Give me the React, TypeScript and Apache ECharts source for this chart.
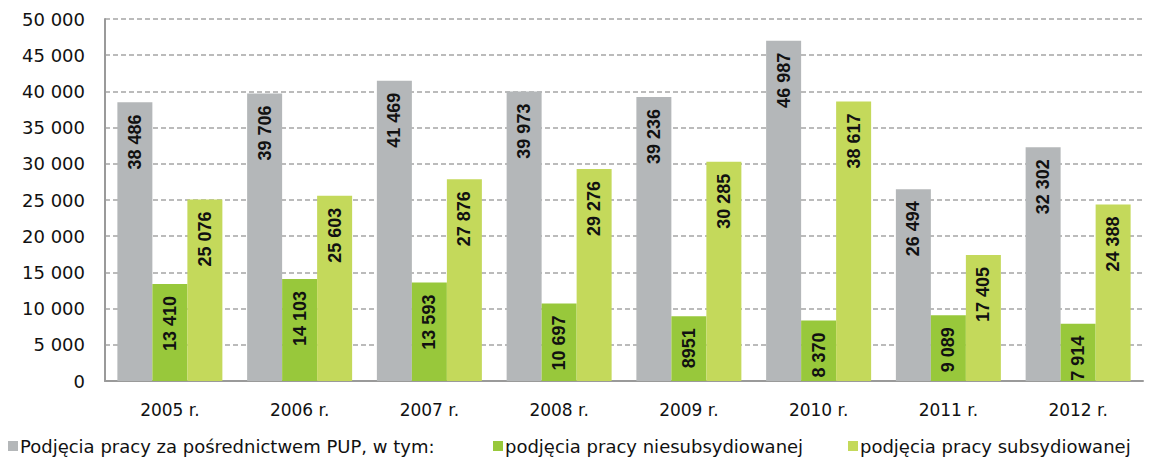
import React, { useEffect, useRef } from "react";
import * as echarts from "echarts";

const categories = ["2005 r.", "2006 r.", "2007 r.", "2008 r.", "2009 r.", "2010 r.", "2011 r.", "2012 r."];
const seriesNames = [
  "Podjęcia pracy za pośrednictwem PUP, w tym:",
  "podjęcia pracy niesubsydiowanej",
  "podjęcia pracy subsydiowanej",
];
const totalJobs = [38486, 39706, 41469, 39973, 39236, 46987, 26494, 32302];
const unsubsidized = [13410, 14103, 13593, 10697, 8951, 8370, 9089, 7914];
const subsidized = [25076, 25603, 27876, 29276, 30285, 38617, 17405, 24388];
const colors = ["#b4b7b9", "#98c83b", "#c4d95b"];

const FONT = "'DejaVu Sans', 'Liberation Sans', Arial, sans-serif";
const BOLD = "'Liberation Sans', Arial, sans-serif";

const fmt = (v: number) => {
  const s = String(Math.round(v));
  if (v === 8951) return s;
  return s.replace(/\B(?=(\d{3})+(?!\d))/g, " ");
};

export default function App() {
  const ref = useRef<HTMLDivElement>(null);
  useEffect(() => {
    if (!ref.current) return;
    const chart = echarts.init(ref.current, null, { renderer: "svg" });
    const label = {
      show: true,
      position: "insideTop" as const,
      rotate: 90,
      align: "right" as const,
      verticalAlign: "middle" as const,
      distance: 12,
      fontFamily: BOLD,
      fontWeight: "bold" as const,
      fontSize: 18,
      color: "#111",
      formatter: (p: any) => fmt(p.value),
    };
    const mkLegend = (name: string, left: number) => ({
      data: [name],
      left,
      top: 437,
      icon: "rect",
      itemWidth: 10,
      itemHeight: 10,
      itemGap: 4,
      padding: 0,
      selectedMode: false,
      textStyle: { fontFamily: FONT, fontSize: 18, color: "#111", padding: [0, 0, 0, -3] },
    });
    chart.setOption({
      animation: false,
      backgroundColor: "#fff",
      grid: { left: 105, right: 14, top: 19, bottom: 78, containLabel: false },
      legend: [mkLegend(seriesNames[0], 8), mkLegend(seriesNames[1], 493), mkLegend(seriesNames[2], 848)],
      xAxis: {
        type: "category",
        data: categories,
        axisLine: { show: true, lineStyle: { color: "#9a9a9a", width: 2 } },
        axisTick: { show: false },
        axisLabel: { fontFamily: FONT, fontSize: 17, color: "#111", margin: 20 },
      },
      yAxis: {
        type: "value",
        min: 0,
        max: 50000,
        interval: 5000,
        axisLine: { show: true, lineStyle: { color: "#9a9a9a", width: 2 } },
        axisTick: { show: false },
        splitLine: { lineStyle: { color: "#a5a5a5", type: [5, 3], width: 1.5 } },
        axisLabel: { fontFamily: FONT, fontSize: 18, color: "#111", margin: 20, formatter: (v: number) => fmt(v) },
      },
      series: [
        { name: seriesNames[0], type: "bar", data: totalJobs, barWidth: 35, barGap: "0%", itemStyle: { color: colors[0] }, label },
        { name: seriesNames[1], type: "bar", data: unsubsidized, barWidth: 35, barGap: "0%", itemStyle: { color: colors[1] }, label },
        { name: seriesNames[2], type: "bar", data: subsidized, barWidth: 35, barGap: "0%", itemStyle: { color: colors[2] }, label },
      ],
    });
    return () => chart.dispose();
  }, []);
  return <div ref={ref} style={{ width: 1157, height: 459, position: "absolute", left: 0, top: 0 }} />;
}
